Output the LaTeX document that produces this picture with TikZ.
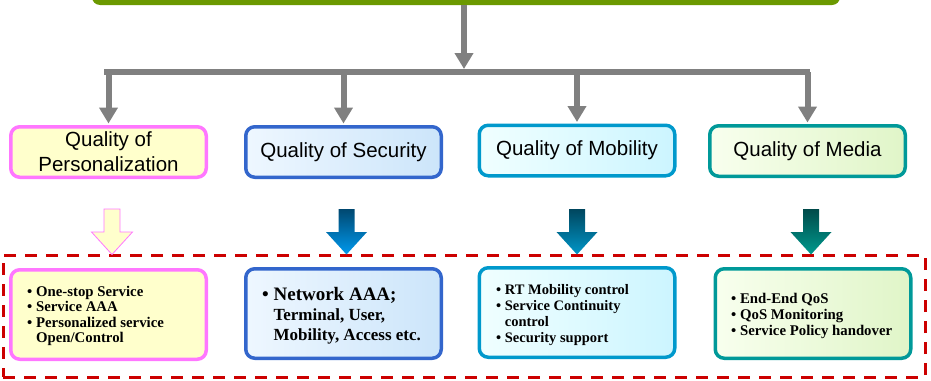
\documentclass[tikz,border=0pt]{standalone}
\usepackage{fontspec}
\setmainfont{Liberation Serif}
\newfontfamily\hdrfont{Liberation Sans}
\usetikzlibrary{arrows.meta}
\definecolor{topgreen}{HTML}{6B9900}
\definecolor{garr}{HTML}{808080}
\definecolor{pinkb}{HTML}{FF77FF}
\definecolor{pinkf}{HTML}{FFFFCC}
\definecolor{secb}{HTML}{3366CC}
\definecolor{secl}{HTML}{EEF7FF}
\definecolor{secr}{HTML}{CCE5FA}
\definecolor{mobb}{HTML}{0099CC}
\definecolor{mobl}{HTML}{F0FFFF}
\definecolor{mobr}{HTML}{CCF5FF}
\definecolor{medb}{HTML}{009999}
\definecolor{medl}{HTML}{F8FFEE}
\definecolor{medr}{HTML}{E0F5C8}
\definecolor{redd}{HTML}{CC0000}
\definecolor{sectop}{HTML}{004870}
\definecolor{secbot}{HTML}{0099EE}
\definecolor{mobtop}{HTML}{00465E}
\definecolor{mobbot}{HTML}{0096C8}
\definecolor{medtop}{HTML}{004A4A}
\definecolor{medbot}{HTML}{009A8E}
\newcommand\qarrow[2]{\path[#2] (#1-8,209) -- (#1+8,209) -- (#1+8,232) -- (#1+20.5,232) -- (#1,254.5) -- (#1-20.5,232) -- (#1-8,232) -- cycle;}
\begin{document}
\begin{tikzpicture}[x=1pt,y=-1pt,
  box/.style={rounded corners=9pt, line width=3.5pt, minimum width=195.5pt, inner sep=0pt},
  hdr/.style={box, minimum height=50.5pt, font=\hdrfont\fontsize{20.5}{25}\selectfont, align=center},
  det/.style={box, minimum height=89.5pt},
  lst/.style={anchor=west, align=left, inner sep=0pt},
  gline/.style={draw=garr, line width=6pt},
  garrow/.style={gline, -{Triangle[width=18pt,length=16pt]}},
  grp/.style={draw=redd, line width=3pt, dash pattern=on 12pt off 9pt, minimum width=922pt, minimum height=122pt, inner sep=0pt}
]
\useasboundingbox (0,0) rectangle (931,380);

% top bar
\begin{scope}
\clip (0,0) rectangle (931,380);
\node[fill=topgreen, rounded corners=8pt, minimum width=748pt, minimum height=24pt, inner sep=0pt] (top) at (466,-7) {};
\end{scope}

% header boxes
\node[hdr, draw=pinkb, fill=pinkf] (pq) at (108.5,152) {Quality of\\Personalization};
\node[hdr, draw=secb, left color=secl, right color=secr] (sq) at (343.5,152) {Quality of Security};
\node[hdr, draw=mobb, left color=mobl, right color=mobr] (mq) at (577,150.5) {Quality of Mobility};
\node[hdr, draw=medb, left color=medl, right color=medr] (dq) at (807.5,151) {Quality of Media};

% gray connectors
\coordinate (hub) at (464,69);
\coordinate (barL) at (104,72);
\coordinate (barR) at (810,72);
\draw[garrow] (top.south -| hub) -- (hub);
\draw[gline] (barL) -- (barR);
\draw[garrow, shorten >=1.5pt] (pq.north |- barL) -- (pq.north);
\draw[garrow, shorten >=1.5pt] (sq.north |- barL) -- (sq.north);
\draw[garrow, shorten >=1.5pt] (mq.north |- barL) -- (mq.north);
\draw[garrow, shorten >=1.5pt] (dq.north |- barL) -- (dq.north);

% dashed group
\node[grp] (group) at (464,316) {};

% block arrows
\qarrow{112}{fill=pinkf, draw=pinkb, line width=0.8pt}
\qarrow{346.5}{top color=sectop, bottom color=secbot}
\qarrow{577}{top color=mobtop, bottom color=mobbot}
\qarrow{811}{top color=medtop, bottom color=medbot}

% detail boxes
\node[det, draw=pinkb, fill=pinkf] (pb) at (108.5,314.5) {};
\node[det, draw=secb, left color=secl, right color=secr] (sb) at (343.5,313.5) {};
\node[det, draw=mobb, left color=mobl, right color=mobr] (mb) at (577,312.5) {};
\node[det, draw=medb, left color=medl, right color=medr] (db) at (813,313.5) {};

% texts
\node[lst, font=\bfseries\fontsize{14.8}{15.5}\selectfont] (pt) at (27,316)
  {• One-stop Service\\• Service AAA\\• Personalized service\\\phantom{• }Open/Control};
\node[lst, font=\bfseries\fontsize{17}{20}\selectfont] (st) at (262,316)
  {{\fontsize{19}{20}\selectfont • Network AAA;}\\{\fontsize{19}{20}\selectfont\phantom{• }}Terminal, User,\\{\fontsize{19}{20}\selectfont\phantom{• }}Mobility, Access etc.};
\node[lst, font=\bfseries\fontsize{14.5}{16}\selectfont] (mt) at (496,315)
  {• RT Mobility control\\• Service Continuity\\\phantom{• }control\\• Security support};
\node[lst, font=\bfseries\fontsize{14.8}{16}\selectfont] (dt) at (731,316)
  {• End-End QoS\\• QoS Monitoring\\• Service Policy handover};
\end{tikzpicture}
\end{document}
